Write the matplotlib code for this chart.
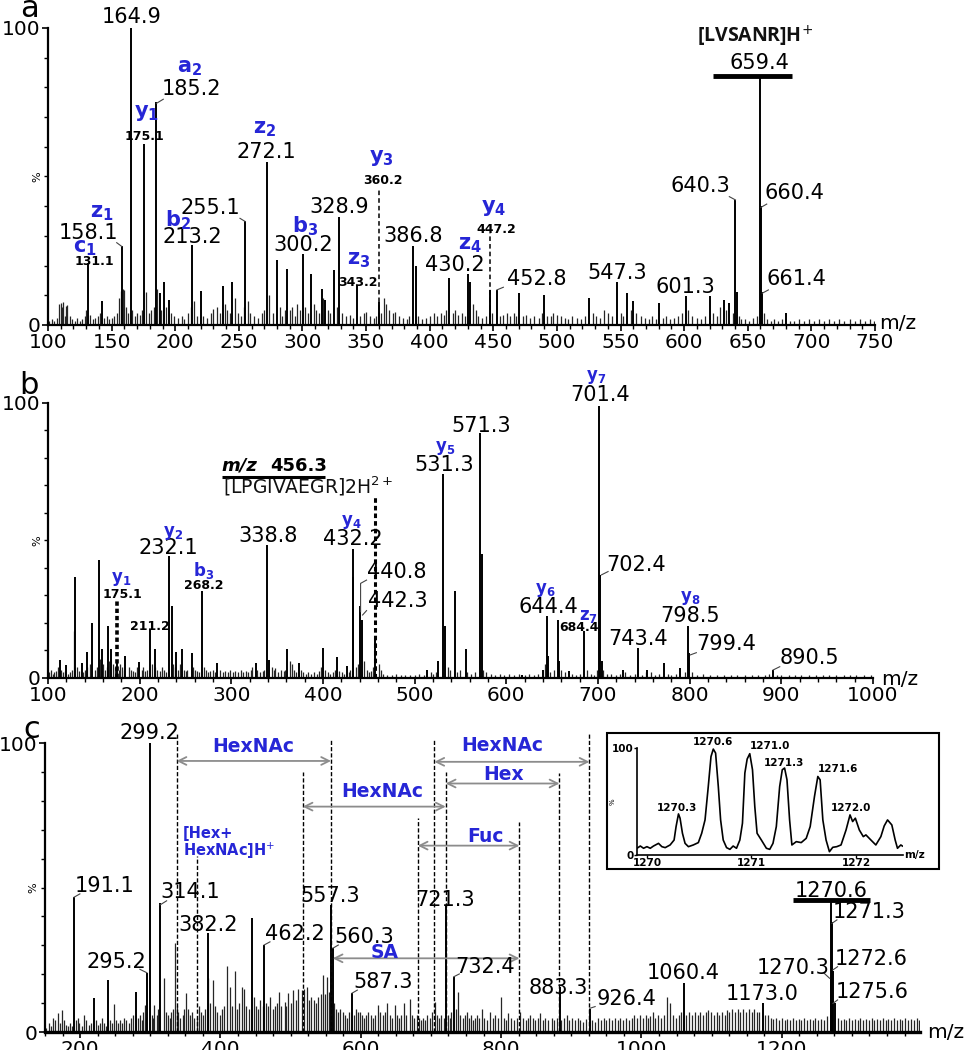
import numpy as np
import matplotlib.pyplot as plt
from matplotlib.patches import Rectangle

plt.rcParams['font.family'] = 'DejaVu Sans'
plt.rcParams['mathtext.fontset'] = 'dejavusans'

BLUE = '#2626d6'
GREY = '#8c8c8c'

# ---------------- panel a : [LVSANR]H+ ----------------
peaks_a = [(131.1, 21), (142.5, 8), (158.1, 26.5), (164.9, 100), (175.1, 61),
           (185.2, 75), (188, 10.7), (191, 14.6), (195, 8.4), (213.2, 27), (220, 11.5),
           (237.5, 13), (245, 14.6), (255.1, 35), (272.1, 55), (280, 22), (288, 18.8),
           (300.2, 23.8), (307, 17), (315, 12), (318, 8.4), (325, 18.5), (328.9, 36.5),
           (343.2, 13.5), (360.2, 7.9), (386.8, 26.7), (389, 20), (415, 15.7), (430.2, 17),
           (432, 14.6), (447.2, 11.8), (452.8, 11.8), (470, 10.9), (490, 10), (525, 9),
           (547.3, 14.3), (555, 10.7), (560, 8), (580, 7.3), (601.3, 9.6), (620, 9.6),
           (631, 8.4), (635, 7.3), (640.3, 42), (641.5, 11), (659.4, 84), (660.4, 40),
           (661.4, 11), (680, 4)]
grass_a = [(101, 1.5), (103, 2), (105, 1.5), (107, 2.5), (109, 7), (110, 7.5), (111, 6), (112, 7.8),
           (113, 3), (114, 6.5), (115, 6.8), (117, 3), (119, 2), (121, 1.5), (123, 2.5), (125, 1.5),
           (127, 2), (129, 3), (130, 5), (133, 3.5), (135, 2), (137, 2.5), (139, 3), (141, 4),
           (144, 2.5), (146, 3), (148, 2), (150, 2.5), (152, 3), (154, 4), (156, 9), (157, 11.5),
           (159, 12), (160, 11.8), (161, 6), (163, 4), (166, 5), (168, 3), (170, 4), (172, 3.5),
           (174, 5), (177, 11), (179, 4), (181, 5), (183, 6), (186, 12), (189, 5), (193, 6),
           (197, 4), (199, 3), (202, 2.5), (205, 3), (207, 2), (210, 4), (212, 6), (215, 8),
           (217, 3), (222, 3), (225, 2.5), (228, 4), (230, 5.5), (233, 6), (235, 4), (239, 7),
           (241, 5), (243, 4), (247, 9), (249, 4), (252, 3), (254, 6), (257, 8), (259, 4),
           (262, 3), (265, 2.5), (268, 4), (270, 5), (274, 10), (277, 4), (282, 6), (284, 3),
           (286, 5), (290, 5), (292, 6), (294, 3), (296, 7), (298, 5), (302, 6), (304, 4),
           (309, 7), (311, 5), (313, 4), (316, 9), (320, 5), (322, 4), (327, 6), (331, 4),
           (334, 3), (337, 3.5), (340, 2.5), (345, 3), (348, 4), (350, 4.5), (353, 3), (356, 2.5),
           (358, 3), (362, 4), (364, 9), (366, 7), (368, 5), (371, 4), (373, 4.5), (376, 3),
           (379, 2.5), (382, 2), (384, 3), (391, 3), (394, 2), (397, 2.5), (400, 3), (403, 4),
           (406, 3), (409, 4), (411, 3.5), (413, 5), (418, 4), (420, 5), (422, 3.5), (425, 4),
           (428, 3), (434, 7), (436, 5), (438, 3), (441, 2.5), (444, 3), (449, 4), (455, 3),
           (458, 3.5), (461, 4), (463, 3), (466, 4), (468, 3), (473, 3), (476, 3.5), (479, 2.5),
           (482, 3), (486, 2.5), (488, 4), (492, 3), (495, 3), (497, 4), (500, 3.5), (503, 3),
           (506, 2.5), (509, 2), (512, 3), (516, 2.5), (519, 2), (522, 3), (528, 4), (531, 3),
           (534, 2.5), (537, 5), (540, 4), (543, 3), (550, 4), (552, 3), (558, 5), (562, 4),
           (566, 3), (569, 2.5), (572, 2), (575, 3), (578, 2), (583, 2.5), (586, 3), (589, 2),
           (592, 2.5), (595, 3), (598, 4), (603, 5), (606, 3), (610, 2.5), (613, 2), (616, 3),
           (623, 4), (626, 3), (628, 6), (633, 5), (638, 4), (643, 3), (645, 2), (648, 2),
           (651, 1.5), (654, 2.5), (657, 3), (663, 4), (665, 2), (668, 1.5), (671, 2), (674, 1.5),
           (677, 2), (683, 1.5), (686, 1.5), (690, 2), (694, 1.5), (698, 2), (702, 1.5), (706, 2),
           (710, 1.5), (714, 2), (718, 1.5), (722, 2), (726, 1.5), (730, 2), (734, 1.5), (738, 2),
           (742, 1.5), (746, 2), (749, 1.5)]
dashed_a = [(360.2, 46), (447.2, 31)]
nums_a = [(166.0, 103.7, '164.9'), (212.9, 79.4, '185.2'), (271.9, 58.4, '272.1'),
          (227.3, 39.3, '255.1'), (213.7, 29.7, '213.2'), (131.7, 31.1, '158.1'),
          (300.2, 26.9, '300.2'), (329, 39.8, '328.9'), (387.1, 30, '386.8'),
          (419.9, 20.2, '430.2'), (484.1, 15.4, '452.8'), (547, 17.6, '547.3'),
          (601.2, 12.9, '601.3'), (613, 46.8, '640.3'), (686.6, 44.3, '660.4'),
          (688, 15.4, '661.4'), (659.1, 88.1, '659.4')]
small_a = [(175.7, 63.4, '175.1'), (363.5, 48.8, '360.2'), (136.4, 21.3, '131.1'),
           (343.9, 14.2, '343.2'), (452.7, 32, '447.2')]
ions_a = [(211.6, 86.5, 'a', '2'), (177.6, 71.3, 'y', '1'), (270.6, 65.9, 'z', '2'),
          (362.3, 56.1, 'y', '3'), (202.4, 35.4, 'b', '2'), (142.2, 37.6, 'z', '1'),
          (129.1, 25.8, 'c', '1'), (302, 33.1, 'b', '3'), (344.4, 21.9, 'z', '3'),
          (431.7, 26.9, 'z', '4'), (450, 39.3, 'y', '4')]
leaders_a = [[(154, 27.7), (158.1, 26.4)], [(185.2, 74.6), (190.6, 76)],
             [(250.9, 35.9), (255.1, 34.8)], [(452.8, 11.8), (457.9, 12.7)],
             [(635.5, 43.2), (640.3, 42.1)], [(660.4, 39.6), (664.9, 40.7)],
             [(661.4, 10.7), (666.2, 11.8)]]

# ---------------- panel b : [LPGIVAEGR]2H2+ ----------------
peaks_b = [(113, 6.5), (120, 4.7), (129.5, 36.6), (136.7, 5.4), (143, 9.6), (147.6, 20),
           (155.6, 43), (158.5, 10.5), (165, 19), (168.3, 10.5), (175.1, 6.5), (184, 8),
           (199.6, 5.7), (211.2, 17.5), (216.7, 10.5), (232.1, 44.4), (234.9, 26), (240, 9.6),
           (245.8, 10.5), (256.7, 9), (268.2, 31.6), (284, 5.4), (326.8, 5.5), (338.8, 48.4),
           (341, 6.5), (361, 10.5), (374, 5.4), (400, 11), (415.5, 7.7), (425.7, 4.5),
           (432.2, 47), (433, 36.8), (440.8, 26), (442.3, 21), (456.3, 15), (514, 3), (526, 6),
           (531.3, 74), (533, 19), (543.8, 31.7), (555.5, 10.5), (571.3, 89), (573, 45),
           (617.6, 1.2), (640, 3), (644.4, 22.5), (646, 8), (656, 21), (658, 6), (668, 2.4),
           (684.4, 17), (701.4, 99), (702.4, 37.5), (704, 6), (727, 3), (743.4, 11), (754, 3),
           (772, 5.5), (790, 3.6), (798.5, 19), (799.4, 9), (890.5, 3)]
grass_b = [(101, 2), (103, 3), (105, 1.5), (107, 2), (109, 2.5), (111, 4), (114, 3), (116, 2),
           (118, 2.5), (122, 1.5), (124, 2), (126, 3), (128, 17), (132, 4), (134, 2.5), (138, 2),
           (140, 3), (142, 4), (146, 5), (151, 3), (153, 4), (157, 7), (160, 5), (162, 3),
           (164, 4), (167, 6), (171, 5), (173, 4), (177, 3), (179, 5), (181, 4), (183, 3),
           (188, 4), (190, 3), (193, 2.5), (195, 2), (197, 4), (202, 3), (204, 4), (206, 2.5),
           (208, 3), (213, 5), (217, 4), (219, 3), (222, 2.5), (224, 4), (227, 3), (229, 2),
           (236, 5), (238, 4), (242, 3), (244, 5), (248, 3), (250, 2.5), (252, 3), (258, 4),
           (260, 3), (262, 2.5), (265, 2), (270, 4), (272, 3), (274, 2), (277, 2.5), (280, 3),
           (282, 2), (288, 3), (291, 2), (293, 2.5), (296, 2), (299, 3), (302, 2), (304, 2.5),
           (307, 2), (310, 3), (313, 2), (316, 2.5), (318, 2), (321, 3), (323, 4), (328, 3),
           (331, 2), (334, 2.5), (336, 3), (344, 4), (346, 3), (348, 3.5), (351, 2), (354, 3),
           (357, 2.5), (359, 3), (364, 6), (366, 5), (368, 3), (371, 2), (376, 3), (378, 2),
           (381, 1.5), (384, 2), (387, 1.5), (390, 2), (393, 1.5), (396, 2.5), (398, 4), (402, 3),
           (405, 2), (408, 1.5), (411, 2), (413, 3), (418, 2.5), (421, 2), (423, 1.5), (428, 2),
           (430, 3), (436, 4), (438, 5), (445, 6), (448, 3), (450, 2), (452, 2.5), (455, 4),
           (461, 5), (463, 3), (466, 1.5), (470, 1), (475, 1), (480, 1.5), (485, 1), (490, 1),
           (495, 1.2), (500, 1), (505, 1.5), (510, 1), (518, 2), (520, 1.5), (523, 2), (536, 4),
           (539, 3), (546, 2), (549, 3), (557, 2), (562, 1.5), (566, 2), (575, 3), (578, 2),
           (583, 1.5), (588, 1), (593, 1.5), (598, 1), (603, 1.5), (608, 1), (614, 1.5), (620, 1),
           (625, 1.5), (630, 1), (635, 1.5), (642, 5), (648, 2), (652, 3), (660, 3), (664, 2),
           (672, 1.5), (676, 1), (680, 1.5), (688, 3), (692, 1.5), (696, 1), (699, 3), (706, 3),
           (710, 1.5), (714, 1.5), (720, 1), (724, 1.5), (730, 2), (735, 1), (740, 1.5), (748, 1),
           (752, 2), (758, 2), (762, 1), (767, 1.5), (776, 1.5), (780, 1), (785, 1.5), (795, 2),
           (803, 2), (808, 1), (815, 1.5), (822, 1), (830, 1), (838, 1), (845, 1), (852, 1),
           (860, 1), (868, 1), (875, 1), (882, 1), (887, 1.5), (895, 1), (900, 1), (908, 1),
           (915, 1), (922, 1), (930, 1), (938, 1), (945, 1), (952, 1), (960, 1), (968, 1),
           (975, 1), (982, 1), (990, 1), (998, 1)]
nums_b = [(231.2, 47.2, '232.1'), (339.6, 51.6, '338.8'), (432.3, 50.4, '432.2'),
          (480.2, 38.7, '440.8'), (482, 28.1, '442.3'), (532.2, 77.5, '531.3'),
          (572.7, 91.6, '571.3'), (702, 102.9, '701.4'), (742, 41.1, '702.4'),
          (645.6, 25.9, '644.4'), (743.7, 14.1, '743.4'), (800.1, 22.5, '798.5'),
          (840.1, 12.4, '799.4'), (931, 7.2, '890.5')]
small_b = [(181.5, 30.2, '175.1'), (211.2, 18.9, '211.2'), (270.1, 33.5, '268.2'),
           (679.4, 18.4, '684.4')]
ions_b = [(179.3, 35.9, 'y', '1'), (236.6, 52.8, 'y', '2'), (270.1, 39, 'b', '3'),
          (431.2, 56.8, 'y', '4'), (532.9, 83.5, 'y', '5'), (698, 109.5, 'y', '7'),
          (642, 32, 'y', '6'), (689.2, 22.5, 'z', '7'), (800.8, 29, 'y', '8')]
leaders_b = [[(441, 24.1), (441, 34.4), (447.5, 35.6)], [(443.2, 22.9), (447.5, 24.5)],
             [(703.8, 37.5), (711, 38.7)], [(800.8, 8.4), (807.3, 9.2)],
             [(891, 2.9), (898.3, 4.1)]]

# ---------------- panel c : glycan fragments ----------------
peaks_c = [(191.1, 46.6), (219.6, 11.7), (240, 18), (279.5, 14), (295.2, 20.5), (299.2, 100),
           (314.1, 44.6), (382.2, 34.4), (444.9, 39.3), (462.2, 30), (557.3, 44), (560.3, 29),
           (587.3, 13.5), (721.3, 44), (732.4, 19), (883.3, 15.7), (926.4, 8), (1060.4, 17),
           (1173.0, 10), (1270.3, 18.7), (1270.6, 45.7), (1271.3, 38), (1272.6, 21), (1275.6, 10)]
grass_c = [(152, 1.5), (155, 3), (158, 2), (161, 5), (164, 4), (168, 6.5), (171, 3), (174, 7.5),
           (177, 4), (180, 2.5), (183, 2), (186, 3), (189, 2), (194, 4), (197, 5), (199, 3),
           (202, 2), (206, 6), (209, 4), (212, 2.5), (215, 3), (222, 4), (225, 2.5), (228, 3),
           (231, 5), (234, 3), (237, 2), (243, 4), (246, 3), (248, 9.7), (251, 4), (254, 3),
           (257, 4), (260, 3), (263, 5), (266, 4), (269, 3), (272, 5), (275, 6), (282, 5),
           (285, 6), (288, 4), (290, 7), (292, 9.5), (294, 5), (302, 6), (304, 5), (306, 9.5),
           (309, 6), (311, 8), (319.9, 18.6), (322, 7), (325, 6), (328, 5), (330, 7), (332, 8),
           (335, 30.7), (338, 9), (340, 7), (343, 5), (346, 6), (348, 8), (351, 13.5), (354, 8),
           (357, 6), (360, 7), (363, 5), (366, 5), (369, 9), (372, 7), (375, 6), (378, 8),
           (381.7, 18.6), (385, 10), (388.9, 18), (392, 9), (395, 7), (399, 6), (402, 8), (405, 9),
           (409.7, 23), (413.5, 15.5), (417, 9), (420.7, 21), (424, 8), (427, 10), (430.2, 15.5),
           (433.5, 15), (437, 9), (440, 8), (448, 12), (451, 9), (454, 8), (457, 11), (460, 9),
           (465, 10), (468, 9), (471, 12), (475, 8), (478, 9), (481, 10), (483.9, 14), (487, 9),
           (492, 10.5), (494, 9), (496.7, 13.5), (500, 10), (503.8, 14.5), (507, 11), (511, 15),
           (515.8, 14.5), (519, 15), (522.9, 15.5), (526, 11), (529, 12), (533.7, 11), (536, 10),
           (539, 12), (543, 13), (546.6, 19.7), (549, 13), (552.3, 19), (555, 14), (562, 10),
           (565, 8), (568, 7), (571, 8), (574, 7), (577, 6), (580, 5), (583, 7), (590, 6),
           (593, 8), (596.5, 7), (599, 7), (602, 6), (605, 5), (608, 6), (611, 7), (614, 6),
           (617, 5), (620, 6), (625, 9.5), (628, 7), (631, 6), (634, 7), (637.9, 10), (641, 6),
           (644, 5), (648.8, 9.3), (652, 6), (655, 5), (658, 6), (661.6, 10), (665, 6),
           (670, 11.3), (673, 6), (676, 5), (680, 6), (683, 5), (686, 4), (689, 5), (692, 4),
           (695, 6), (698, 5), (701, 7), (705.9, 10.5), (709, 6), (712, 5), (715, 6), (718, 5),
           (724, 6), (727, 5), (729, 7), (735, 8), (739, 14), (742, 6), (745, 5), (748, 6),
           (751, 7), (754, 5), (757, 6), (760, 4), (763, 5), (766, 6), (769, 5), (772.4, 8),
           (776, 5), (780, 4), (784.3, 7), (788, 5), (792, 6), (796, 5), (800, 12), (804, 5),
           (807, 4), (810.4, 6.5), (814, 5), (818, 4), (822, 5), (827, 7), (831, 5), (835, 4),
           (838, 5), (841.3, 6), (845, 5), (849, 4), (852, 5), (855.6, 6.5), (859, 4), (863, 5),
           (867, 4), (872.3, 5), (876, 4), (879, 5), (886, 4), (889, 5), (893.6, 6), (897, 4),
           (901, 5), (905, 4), (909, 5), (913, 4), (917, 3.5), (921, 4.5), (930, 4), (934, 3.5),
           (938, 5), (942, 4), (946, 5), (950, 4), (954, 5), (958, 4), (962, 5), (966, 4),
           (970, 5), (974, 4), (978, 5), (982, 4), (986, 5), (990, 6), (994, 5), (998, 6),
           (1002, 5), (1006, 6), (1009, 5), (1012.4, 5.5), (1016, 7), (1020, 5), (1024, 6),
           (1028, 5), (1032, 6), (1037, 12), (1041, 10), (1045, 6), (1049, 5), (1053, 6),
           (1056, 7), (1064, 6), (1068, 7), (1072, 6), (1076, 7), (1080, 6), (1084, 7),
           (1088, 6), (1092, 7), (1095.5, 7.7), (1099, 7), (1103, 6), (1107, 7), (1111, 6),
           (1115, 7), (1119, 6), (1121.8, 7.7), (1125, 7), (1129, 8), (1133, 7), (1137, 8),
           (1141, 7), (1145, 8), (1149, 7), (1153, 8), (1157, 7), (1161, 8), (1165, 7),
           (1168, 7), (1176, 6), (1180, 6), (1184, 5), (1188, 4.5), (1192, 5), (1196, 4),
           (1200, 5), (1204, 4), (1208, 4.5), (1212, 4), (1216, 5), (1220, 4), (1224, 4.5),
           (1228, 4), (1232, 5), (1236, 4), (1240, 4.5), (1244, 4), (1248, 5), (1252, 4),
           (1256, 4.5), (1260, 4), (1264.4, 5.6), (1280, 5), (1284, 4), (1288, 4.5), (1292, 4),
           (1296, 5), (1300, 4), (1304, 4.5), (1308, 4), (1312, 5), (1316, 4), (1320, 4.5),
           (1324, 4), (1328, 5), (1332, 4), (1336, 4.5), (1340, 4), (1344, 5), (1348, 4),
           (1352, 4.5), (1356, 4), (1360, 5), (1364, 4), (1368, 4.5), (1372, 4), (1376, 5),
           (1380, 4), (1384, 4.5), (1388, 4), (1392, 5), (1396, 4)]
nums_c = [(299.5, 103.4, '299.2'), (235.3, 50.5, '191.1'), (356.5, 48.5, '314.1'),
          (382.6, 37, '382.2'), (252, 24.3, '295.2'), (506.2, 33.9, '462.2'),
          (557.1, 47.1, '557.3'), (604.6, 33, '560.3'), (631.3, 17.4, '587.3'),
          (720.1, 45.7, '721.3'), (777.2, 22.4, '732.4'), (881.7, 15.1, '883.3'),
          (978.2, 11.3, '926.4'), (1059, 20.3, '1060.4'), (1171.7, 13.1, '1173.0'),
          (1270, 48.9, '1270.6'), (1325.1, 41.6, '1271.3'), (1327.1, 25.2, '1272.6'),
          (1215.9, 22.3, '1270.3'), (1328.5, 13.9, '1275.6')]
leaders_c = [[(191.1, 46.6), (199.7, 47.8)], [(314.1, 44), (323.3, 45.4)],
             [(285.2, 21.7), (295.2, 20.5)], [(462.2, 30.1), (470.6, 31.2)],
             [(560.3, 29), (568, 30.1)], [(587.3, 13.4), (595.1, 14.5)],
             [(732.4, 19.1), (740.5, 20.1)], [(926.4, 8.2), (934, 8.8)],
             [(1271.5, 37.6), (1278.6, 38.8)], [(1272.9, 21.5), (1279.5, 22.6)],
             [(1260.5, 20.3), (1268.1, 18.6)], [(1272.9, 9.9), (1279.5, 11.1)]]
# vertical guides (m/z, top %)
guides_c = [(337.5, 103.5), (557.6, 101), (517.2, 90), (721.1, 90), (681.2, 74),
            (704.9, 101), (826.1, 72.8), (883.1, 89.6), (925.9, 103.5), (366.1, 61)]
# mass differences: start, end, height, label, label x, label y
arrows_c = [(337.5, 557.6, 93.8, 'HexNAc', 446.8, 98.7),
            (517.2, 721.1, 78, 'HexNAc', 629.9, 83.2),
            (704.9, 925.9, 93.5, 'HexNAc', 801, 99),
            (721.1, 883.1, 86, 'Hex', 803.3, 89.2),
            (681.2, 826.1, 64.5, 'Fuc', 777.2, 67.6),
            (560, 826.1, 25.5, 'SA', 634.5, 27.6)]

# ---------------- inset : isotope envelope of 1270.6 ----------------
iso_mz = [1269.905, 1269.937, 1269.968, 1270.0, 1270.032, 1270.063, 1270.111, 1270.143,
          1270.175, 1270.222, 1270.260, 1270.279, 1270.302, 1270.317, 1270.340, 1270.365,
          1270.397, 1270.444, 1270.492, 1270.524, 1270.556, 1270.587, 1270.613, 1270.635,
          1270.657, 1270.683, 1270.705, 1270.730, 1270.762, 1270.794, 1270.825, 1270.857,
          1270.889, 1270.914, 1270.937, 1270.959, 1270.984, 1271.010, 1271.032, 1271.054,
          1271.095, 1271.143, 1271.175, 1271.206, 1271.238, 1271.270, 1271.295, 1271.317,
          1271.340, 1271.365, 1271.387, 1271.429, 1271.476, 1271.524, 1271.562, 1271.603,
          1271.635, 1271.657, 1271.683, 1271.714, 1271.746, 1271.778, 1271.816, 1271.857,
          1271.905, 1271.943, 1271.968, 1271.994, 1272.032, 1272.070, 1272.095, 1272.143,
          1272.190, 1272.238, 1272.270, 1272.302, 1272.343, 1272.375, 1272.397, 1272.429,
          1272.444]
iso_int = [6.3, 8.4, 6.3, 7.8, 6.3, 8.4, 10.9, 7.8,
           6.9, 9.4, 14, 26.6, 38.4, 34.4, 20.3, 10.9,
           7.8, 9.4, 11.6, 20.3, 32.8, 64, 92, 99,
           95.3, 64, 32.8, 14, 6.9, 5.3, 8.4, 6.3,
           14, 29.7, 76.6, 89.7, 94.7, 79.7, 45.3, 20.3,
           14, 6.3, 5.3, 10.9, 26.6, 64, 79.7, 81.3,
           70.3, 32.8, 9.4, 12.5, 11.6, 15.6, 26.6, 54.7,
           73.4, 70.3, 32.8, 14, 3.1, 7.2, 7.8, 9.4,
           23.4, 37.5, 31.3, 34.4, 23.4, 17.2, 18.8, 14,
           9.4, 17.2, 27.2, 32.8, 28.1, 14, 6.3, 9.4,
           8.4]
iso_labels = [(1270.629, 105.3, '1270.6'), (1271.181, 101.6, '1271.0'),
              (1271.308, 85.9, '1271.3'), (1271.825, 80.3, '1271.6'),
              (1270.292, 43.8, '1270.3'), (1271.952, 43.8, '1272.0')]


fig = plt.figure(figsize=(9.66, 10.5), dpi=100)


def setup(ax, xlim, major, minor):
    ax.set_xlim(*xlim)
    ax.set_ylim(0, 100)
    ax.patch.set_alpha(0)
    for s in ('top', 'right'):
        ax.spines[s].set_visible(False)
    for s in ('left', 'bottom'):
        ax.spines[s].set_linewidth(1.6)
    ax.set_yticks([0, 100])
    ax.set_yticks(np.arange(0, 101, 10), minor=True)
    ax.set_xticks(major)
    ax.set_xticks(minor, minor=True)
    ax.tick_params(which='major', length=4, width=1.2, labelsize=14.5, pad=1.5)
    ax.tick_params(which='minor', length=3, width=1)
    ax.text(-0.013, 0.5, '%', transform=ax.transAxes, rotation=90, fontsize=8,
            ha='center', va='center')


def spectrum(ax, peaks, grass):
    gm, gh = zip(*grass)
    ax.vlines(gm, 0, gh, colors='#262626', lw=0.9)
    pm, ph = zip(*peaks)
    ax.vlines(pm, 0, ph, colors='k', lw=1.4)


def labels(ax, nums, small, ions, leaders, ion_size):
    for x, y, s in nums:
        ax.text(x, y, s, fontsize=15, ha='center', va='center')
    for x, y, s in small:
        ax.text(x, y, s, fontsize=9, fontweight='bold', ha='center', va='center')
    for x, y, s, n in ions:
        ax.text(x, y, r'$\mathbf{%s}_{\mathbf{%s}}$' % (s, n), color=BLUE,
                fontsize=ion_size, ha='center', va='center')
    for pts in leaders:
        xs, ys = zip(*pts)
        ax.plot(xs, ys, color='#444444', lw=0.8)


# ---- a ----
ax_a = fig.add_axes([0.0497, 0.6905, 0.8561, 0.2829])
setup(ax_a, (100, 750), np.arange(100, 751, 50), np.arange(100, 751, 10))
spectrum(ax_a, peaks_a, grass_a)
for x, top in dashed_a:
    ax_a.vlines(x, 0, top, colors='k', lw=1.1, linestyles=(0, (3, 2)))
labels(ax_a, nums_a, small_a, ions_a, leaders_a, 15)
ax_a.hlines(83.9, 622.9, 684.5, colors='k', lw=3.5)
ax_a.text(655.7, 97.1, '[LVSANR]H$^{+}$', fontsize=14, fontfamily='Open Sans',
          fontweight='bold', ha='center', va='center', color='#111111')
ax_a.text(768, 0.5, 'm/z', fontsize=14.5, ha='center', va='center')
fig.text(30 / 966, 1 - 17 / 1050, 'a', fontsize=22, ha='center', va='baseline')

# ---- b ----
ax_b = fig.add_axes([0.0497, 0.3543, 0.854, 0.2619])
setup(ax_b, (100, 1000), np.arange(100, 1001, 100), np.arange(100, 1001, 20))
spectrum(ax_b, peaks_b, grass_b)
ax_b.vlines(175.1, 0, 28, colors='k', lw=2.6, linestyles=(0, (1.2, 0.8)))
ax_b.vlines(456.3, 0, 66, colors='k', lw=2.2, linestyles=(0, (1.5, 1)))
labels(ax_b, nums_b, small_b, ions_b, leaders_b, 12)
ax_b.text(308.8, 77.1, 'm/z', fontsize=13, fontweight='bold', fontstyle='italic',
          ha='center', va='center')
ax_b.text(373.7, 77.1, '456.3', fontsize=13, fontweight='bold', ha='center', va='center')
ax_b.hlines(73.2, 289.4, 402.1, colors='k', lw=2.2)
ax_b.text(383.9, 69.6, '[LPGIVAEGR]2H$^{2+}$', fontsize=13.5, ha='center', va='center',
          color='#111111')
ax_b.text(1029, -0.5, 'm/z', fontsize=14.5, ha='center', va='center')
fig.text(29 / 966, 1 - 394 / 1050, 'b', fontsize=22, ha='center', va='baseline')

# ---- c ----
ax_c = fig.add_axes([0.0466, 0.01714, 0.9058, 0.2752])
setup(ax_c, (150, 1397), np.arange(200, 1201, 200), np.arange(150, 1397, 25))
ax_c.spines['bottom'].set_linewidth(2.4)
spectrum(ax_c, peaks_c, grass_c)
for x, top in guides_c:
    ax_c.vlines(x, 0, top, colors='k', lw=1.0, linestyles=(0, (3, 1.5)), clip_on=False)
for x0, x1, y, s, tx, ty in arrows_c:
    ax_c.annotate('', xy=(x1, y), xytext=(x0, y),
                  arrowprops=dict(arrowstyle='<->', color=GREY, lw=1.3,
                                  shrinkA=0, shrinkB=0, mutation_scale=14))
    ax_c.text(tx, ty, s, color=BLUE, fontsize=13.5, fontweight='bold',
              ha='center', va='center')
labels(ax_c, nums_c, [], [], leaders_c, 12)
ax_c.text(346.1, 68.7, '[Hex+', color=BLUE, fontsize=10.5, fontweight='bold',
          ha='left', va='center')
ax_c.text(346.1, 62.7, 'HexNAc]H$^{+}$', color=BLUE, fontsize=10.5, fontweight='bold',
          ha='left', va='center')
ax_c.hlines(45.7, 1215.4, 1325.2, colors='k', lw=3.5)
ax_c.text(1433, 0, 'm/z', fontsize=14.5, ha='center', va='center')
fig.text(32 / 966, 1 - 738 / 1050, 'c', fontsize=22, ha='center', va='baseline')

# ---- inset ----
fig.add_artist(Rectangle((0.6284, 0.1724), 0.3437, 0.1295, transform=fig.transFigure,
                         facecolor='white', edgecolor='k', lw=1.5, zorder=4))
ax_in = fig.add_axes([0.6594, 0.1857, 0.2754, 0.1019], zorder=5)
ax_in.patch.set_alpha(0)
ax_in.set_xlim(1269.905, 1272.45)
ax_in.set_ylim(0, 100)
for s in ('top', 'right'):
    ax_in.spines[s].set_visible(False)
for s in ('left', 'bottom'):
    ax_in.spines[s].set_linewidth(1.2)
ax_in.plot(iso_mz, iso_int, color='k', lw=1.2)
ax_in.set_xticks([1270, 1271, 1272])
ax_in.set_yticks([0, 100])
ax_in.tick_params(length=2, width=1, labelsize=7.5, pad=0.5)
for lbl in ax_in.get_xticklabels() + ax_in.get_yticklabels():
    lbl.set_fontweight('bold')
for x, y, s in iso_labels:
    ax_in.text(x, y, s, fontsize=7.5, fontweight='bold', ha='center', va='center')
ax_in.text(1272.556, 0, 'm/z', fontsize=7.5, fontweight='bold', ha='center', va='center')
ax_in.text(-0.09, 0.5, '%', transform=ax_in.transAxes, fontsize=5, rotation=90,
           ha='center', va='center')

fig.savefig('out.png', dpi=100)
